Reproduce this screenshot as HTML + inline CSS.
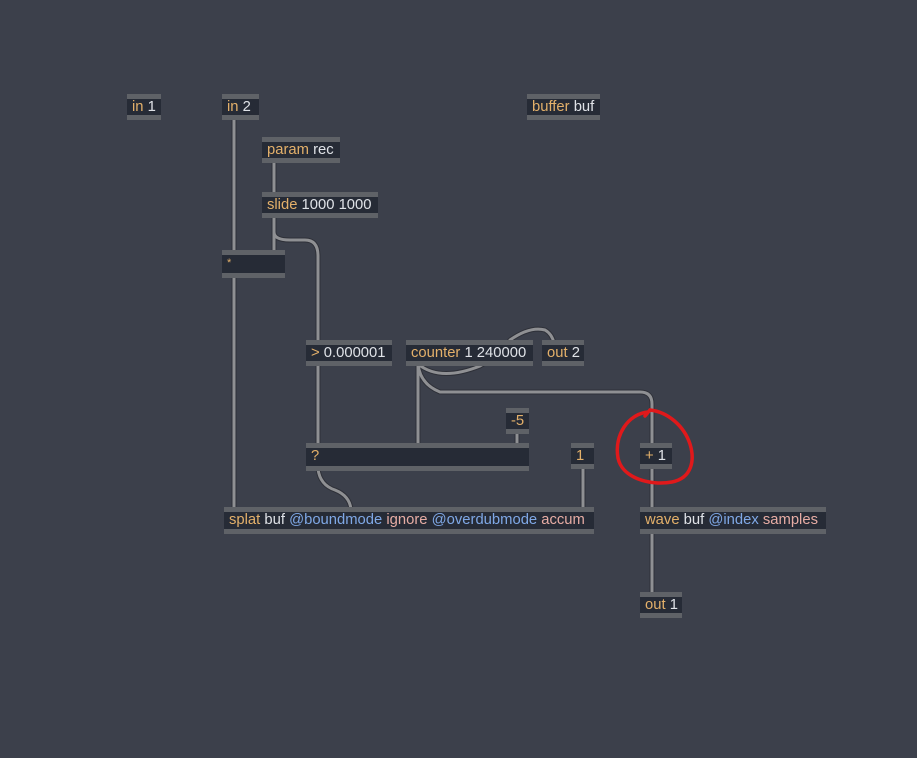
<!DOCTYPE html>
<html><head><meta charset="utf-8"><style>
html,body{margin:0;padding:0;}
body{width:917px;height:758px;background:#3c404b;position:relative;overflow:hidden;font-family:"Liberation Sans",sans-serif;}
.b{position:absolute;background:#262b36;border-top:5px solid #5f6267;border-bottom:5px solid #5f6267;box-sizing:border-box;font-size:14.8px;line-height:17px;padding-left:5px;white-space:nowrap;color:#dfe2e7;overflow:visible;}
.o{color:#e3b06a}.a{color:#7fa8e6}.v{color:#e6aca4}
svg{position:absolute;left:0;top:0;}
</style></head><body>
<svg width="917" height="758">
<g fill="none" stroke-linecap="round">
<g stroke="#2e3038" stroke-width="5">
<path d="M234 118 V253"/>
<path d="M274 161 V196"/>
<path d="M274 216 V253"/>
<path d="M274 216 V232 Q274 240 290 240 H305 Q318 240 318 256 V343"/>
<path d="M234 276 V510"/>
<path d="M318 364 V446"/>
<path d="M418 364 V446"/>
<path d="M517 432 V446"/>
<path d="M318 469 Q320 485 335 490 Q350 496 351 510"/>
<path d="M583 467 V510"/>
<path d="M418 364 Q420 384 440 392 H640 Q652 392 652 404 V446"/>
<path d="M418 364 Q440 382 480 366 Q505 352 510 340 Q530 326 545 330 Q552 334 554 343"/>
<path d="M652 467 V510"/>
<path d="M652 531 V595"/>
</g>
<g stroke="#8f9093" stroke-width="3">
<path d="M234 118 V253"/>
<path d="M274 161 V196"/>
<path d="M274 216 V253"/>
<path d="M274 216 V232 Q274 240 290 240 H305 Q318 240 318 256 V343"/>
<path d="M234 276 V510"/>
<path d="M318 364 V446"/>
<path d="M418 364 V446"/>
<path d="M517 432 V446"/>
<path d="M318 469 Q320 485 335 490 Q350 496 351 510"/>
<path d="M583 467 V510"/>
<path d="M418 364 Q420 384 440 392 H640 Q652 392 652 404 V446"/>
<path d="M418 364 Q440 382 480 366 Q505 352 510 340 Q530 326 545 330 Q552 334 554 343"/>
<path d="M652 467 V510"/>
<path d="M652 531 V595"/>
</g>
</g>
</svg>
<div class="b" style="left:127px;top:94px;width:34px;height:26px"><span class="o">in</span> 1</div>
<div class="b" style="left:222px;top:94px;width:37px;height:26px"><span class="o">in</span> 2</div>
<div class="b" style="left:527px;top:94px;width:73px;height:26px"><span class="o">buffer</span> buf</div>
<div class="b" style="left:262px;top:137px;width:78px;height:26px"><span class="o">param</span> rec</div>
<div class="b" style="left:262px;top:192px;width:116px;height:26px"><span class="o">slide</span> 1000 1000</div>
<div class="b" style="left:222px;top:250px;width:63px;height:28px;font-size:11px;line-height:16px"><span class="o">*</span></div>
<div class="b" style="left:306px;top:340px;width:86px;height:26px"><span class="o">&gt;</span> 0.000001</div>
<div class="b" style="left:406px;top:340px;width:127px;height:26px"><span class="o">counter</span> 1 240000</div>
<div class="b" style="left:542px;top:340px;width:42px;height:26px"><span class="o">out</span> 2</div>
<div class="b" style="left:506px;top:408px;width:23px;height:26px"><span class="o">-5</span></div>
<div class="b" style="left:306px;top:443px;width:223px;height:28px"><span class="o">?</span></div>
<div class="b" style="left:571px;top:443px;width:23px;height:26px"><span class="o">1</span></div>
<div class="b" style="left:640px;top:443px;width:32px;height:26px"><span class="o">+</span> 1</div>
<div class="b" style="left:224px;top:507px;width:370px;height:27px"><span class="o">splat</span> buf <span class="a">@boundmode</span> <span class="v">ignore</span> <span class="a">@overdubmode</span> <span class="v">accum</span></div>
<div class="b" style="left:640px;top:507px;width:186px;height:27px"><span class="o">wave</span> buf <span class="a">@index</span> <span class="v">samples</span></div>
<div class="b" style="left:640px;top:592px;width:42px;height:26px"><span class="o">out</span> 1</div>
<svg width="917" height="758" style="pointer-events:none">
<path d="M648 412 C628 414 614 435 618 458 C622 478 650 486 672 482 C692 478 695 460 690 444 C684 426 668 412 650 410 L645 416" fill="none" stroke="#e0191b" stroke-width="3.5" stroke-linecap="round"/>
</svg>
</body></html>
